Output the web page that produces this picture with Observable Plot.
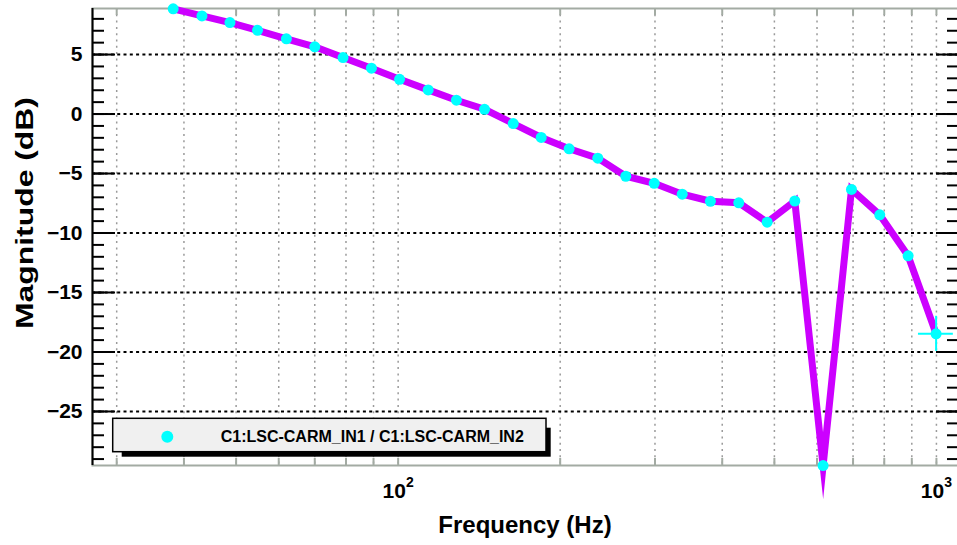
<!DOCTYPE html>
<html><head><meta charset="utf-8">
<script src="https://cdn.jsdelivr.net/npm/d3@7"></script>
<script src="https://cdn.jsdelivr.net/npm/@observablehq/plot@0.6"></script>
<style>body{margin:0;background:#fff} svg{display:block}</style>
</head><body><div id="chart"></div>
<script>
// ---- data ----
const freqHz = [38.2, 43.2, 48.7, 54.8, 62.0, 70.0, 79.0, 89.2, 100.6, 113.7, 128.3, 144.7, 163.6, 184.4,
                207.8, 234.9, 264.8, 299.0, 337.1, 380.3, 429.3, 484.8, 545.6, 615.8, 695.3, 784.7, 886.0, 998.6];
const magDb  = [8.84, 8.25, 7.69, 7.04, 6.32, 5.65, 4.75, 3.85, 2.92, 2.03, 1.16, 0.40, -0.80, -1.97,
                -2.92, -3.71, -5.23, -5.82, -6.74, -7.33, -7.46, -9.09, -7.31, -29.55, -6.34, -8.47, -11.92, -18.47];
// error cross drawn on the last point
const lastErrF  = [926, 1075];
const lastErrDb = [-19.95, -17.0];

const xDomain = [27.05, 1099];
const yDomain = [-29.54, 8.87];
const xGridTicks = [30, 40, 50, 60, 70, 80, 90, 100, 200, 300, 400, 500, 600, 700, 800, 900, 1000];
const xLabelTicks = [100, 1000];
const yMajorTicks = [-25, -20, -15, -10, -5, 0, 5];
const yMinorTicks = d3.range(-29, 9);
const xTitle = "Frequency (Hz)";
const yTitle = "Magnitude (dB)";
const seriesLabel = "C1:LSC-CARM_IN1 / C1:LSC-CARM_IN2";

const rows = freqHz.map((f, i) => ({f, db: magDb[i]}));
const last = rows[rows.length - 1];
const errRow = [{f: last.f, db: last.db, fLo: lastErrF[0], fHi: lastErrF[1], dbLo: lastErrDb[0], dbHi: lastErrDb[1]}];

const FONT = "'Liberation Sans', Arial, Helvetica, sans-serif";
const GRAY = "#a3aba3";
const LINE = "#cc00ff";
const MARK = "#00ffff";

const plot = Plot.plot({
  width: 957, height: 545,
  marginLeft: 92, marginRight: -1, marginTop: 8, marginBottom: 80,
  style: {fontFamily: FONT, background: "white", overflow: "visible"},
  x: {type: "log", domain: xDomain},
  y: {domain: yDomain},
  marks: [
    Plot.ruleX(xGridTicks, {stroke: "#9a9a9a", strokeDasharray: "2,4.3", strokeWidth: 1.5}),
    Plot.ruleY(yMajorTicks, {stroke: "black", strokeDasharray: "3,3.3", strokeWidth: 2}),
    Plot.frame({stroke: GRAY, strokeWidth: 2}),
    // x ticks (gray, inward) bottom and top
    Plot.axisX({anchor: "bottom", ticks: xGridTicks, tickSize: 7, dy: -7, tickFormat: () => "", label: null, stroke: GRAY, strokeWidth: 2}),
    Plot.axisX({anchor: "top", ticks: xGridTicks, tickSize: 6, dy: 6, tickFormat: () => "", label: null, stroke: GRAY, strokeWidth: 2}),
    // x tick labels
    Plot.axisX({anchor: "bottom", ticks: xLabelTicks, tickSize: 0, tickPadding: 18, label: null,
      tickFormat: d => String(Math.round(Math.log10(d))), fontSize: 21, fontWeight: "bold", fill: "black"}),
    // left axis
    Plot.ruleX([xDomain[0]], {stroke: "black", strokeWidth: 2}),
    Plot.axisY({anchor: "left", ticks: yMinorTicks, tickSize: 12, dx: 12, tickFormat: () => "", label: null, stroke: "black", strokeWidth: 2}),
    Plot.axisY({anchor: "left", ticks: yMajorTicks, tickSize: 23, dx: 23, tickFormat: () => "", label: null, stroke: "black", strokeWidth: 2}),
    Plot.axisY({anchor: "left", ticks: yMajorTicks, tickSize: 0, tickPadding: 10, label: null,
      tickFormat: d => (d < 0 ? "\u2212" + (-d) : String(d)), fontSize: 21, fontWeight: "bold", fill: "black"}),
    // right axis ticks
    Plot.axisY({anchor: "right", ticks: yMinorTicks, tickSize: 12, dx: -12, tickFormat: () => "", label: null, stroke: "black", strokeWidth: 2}),
    Plot.axisY({anchor: "right", ticks: yMajorTicks, tickSize: 23, dx: -23, tickFormat: () => "", label: null, stroke: "black", strokeWidth: 2}),
    // data
    Plot.line(rows, {x: "f", y: "db", stroke: LINE, strokeWidth: 7, strokeLinejoin: "miter", strokeMiterlimit: 10, strokeLinecap: "butt"}),
    Plot.ruleY(errRow, {y: "db", x1: "fLo", x2: "fHi", stroke: MARK, strokeWidth: 2}),
    Plot.ruleX(errRow, {x: "f", y1: "dbLo", y2: "dbHi", stroke: MARK, strokeWidth: 2}),
    Plot.dot(rows, {x: "f", y: "db", r: 5.5, fill: MARK})
  ]
});

const svg = d3.select(plot);

// superscript exponents on x labels (only the non-empty label texts)
svg.selectAll('g[aria-label="x-axis tick label"] text').each(function() {
  const t = d3.select(this);
  const e = t.text();
  if (!e) return;
  t.text("10");
  t.append("tspan").attr("dy", -11).attr("font-size", 14).text(e);
});

// axis titles
svg.append("text").attr("x", 525).attr("y", 533).attr("text-anchor", "middle")
  .attr("font-family", FONT).attr("font-weight", "bold").attr("font-size", 24).attr("fill", "black").text(xTitle);
svg.append("text").attr("transform", "translate(33,213) rotate(-90)").attr("text-anchor", "middle")
  .attr("font-family", FONT).attr("font-weight", "bold").attr("font-size", 24).attr("fill", "black")
  .attr("textLength", 232).attr("lengthAdjust", "spacingAndGlyphs").text(yTitle);

// legend box with shadow
const lg = svg.append("g");
lg.append("rect").attr("x", 121.7).attr("y", 427.7).attr("width", 429).attr("height", 29).attr("fill", "black");
lg.append("rect").attr("x", 112.7).attr("y", 418.3).attr("width", 433.3).attr("height", 33.4)
  .attr("fill", "#f0f0f0").attr("stroke", "black").attr("stroke-width", 1.5);
lg.append("circle").attr("cx", 167.3).attr("cy", 436.7).attr("r", 6).attr("fill", MARK);
lg.append("text").attr("x", 220.7).attr("y", 442.3).attr("text-anchor", "start").attr("font-family", FONT).attr("font-weight", "bold")
  .attr("font-size", 16).attr("fill", "black").text(seriesLabel);

document.getElementById("chart").appendChild(plot);
</script>
</body></html>
